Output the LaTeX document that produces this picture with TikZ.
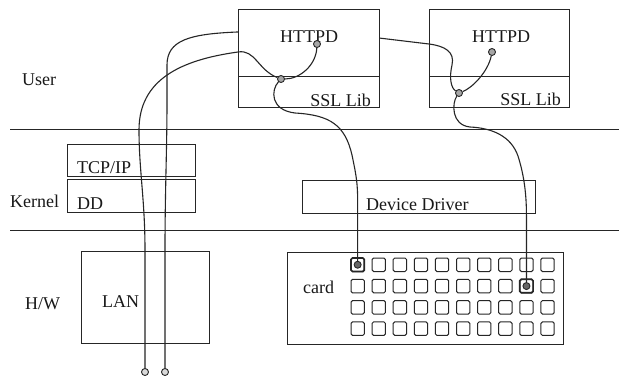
\documentclass[tikz,border=0pt]{standalone}
\usepackage{fontspec}
\setmainfont{Liberation Serif}
\begin{document}
\begin{tikzpicture}[x=1pt,y=-1pt,
  line/.style={draw=black!85,line width=1pt},
  wire/.style={draw=black!85,line width=1.1pt},
  box/.style={draw=black!85,line width=1pt},
  lbl/.style={font=\fontsize{18}{20}\selectfont,inner sep=0pt,text=black!90},
  jdot/.style={circle,draw=black!85,fill=black!35,line width=0.9pt,minimum size=7pt,inner sep=0pt},
  cdot/.style={circle,draw=black!85,fill=black!60,line width=0.9pt,minimum size=7pt,inner sep=0pt},
  enddot/.style={circle,draw=black!85,fill=black!15,line width=0.9pt,minimum size=7pt,inner sep=0pt},
  cell/.style={draw=black!85,line width=1pt,rounded corners=1.5pt}]
\useasboundingbox (0,0) rectangle (619,376);
\fill[white] (0,0) rectangle (619,376);

% layer separators
\draw[line] (10,129.5) -- (619,129.5);
\draw[line] (10,230) -- (619,230);

% layer labels
\node[lbl,anchor=base west] (user) at (22,85) {User};
\node[lbl,anchor=base west] (kernel) at (10,207) {Kernel};
\node[lbl,anchor=base west] (hw) at (25,309) {H/W};

% kernel boxes
\draw[box] (67,144) rectangle (195,176);
\node[lbl,anchor=base west] (tcpip) at (77,173) {TCP/IP};
\draw[box] (67,179) rectangle (195,212);
\node[lbl,anchor=base west] (dd) at (77,209) {DD};
\draw[box] (302,180) rectangle (535,213);
\node[lbl,anchor=base west] (devdrv) at (366,210) {Device Driver};

% hardware
\draw[box] (81,251) rectangle (209,343);
\node[lbl,anchor=base west] (lan) at (102,307) {LAN};
\draw[box] (287,252) rectangle (563,344);
\node[lbl,anchor=base west] (card) at (303,293) {card};
\foreach \i in {0,...,9}
  \foreach \j in {0,...,3}
    \draw[cell] ({351+21.1*\i},{258+21.3*\j}) rectangle ++(13.3,13.5);
\draw[cell,line width=1.7pt] (351,258) rectangle ++(13.3,13.5);
\draw[cell,line width=1.7pt] ({351+21.1*8},{258+21.3}) rectangle ++(13.3,13.5);
\node[cdot] (c1) at (357.65,264.75) {};
\node[cdot] (c2) at (526.45,286.05) {};

% LAN cable ends
\node[enddot] (lanL) at (145,372) {};
\node[enddot] (lanR) at (165,372) {};

% second HTTPD box
\draw[box] (429,9) rectangle (569,107);
\draw[box] (429,76) -- (569,76);
\node[lbl,anchor=base west] (httpd2) at (472,42) {HTTPD};
\node[lbl,anchor=base east] (ssl2) at (561,105) {SSL Lib};
\node[jdot] (j2) at (459,93) {};
\node[jdot] (h2) at (492,52) {};

% wire from LAN (right cable) passing behind the first HTTPD box
\draw[wire] (lanR) -- (165,250) .. controls (165,190) and (167,150) .. (167,100)
  -- (167,65) .. controls (167,40) and (190,34) .. (237,32) -- (379,38) -- (429,44)
  .. controls (445,46) and (455,52) .. (452,65) .. controls (449,78) and (451,88) .. (j2);

% first HTTPD box (opaque)
\filldraw[box,fill=white] (238,9) rectangle (379,107);
\draw[box] (238,76) -- (379,76);
\node[lbl,anchor=base west] (httpd1) at (280,42) {HTTPD};
\node[lbl,anchor=base east] (ssl1) at (371,106) {SSL Lib};
\node[jdot] (j1) at (281,79) {};
\node[jdot] (h1) at (317,44) {};

% wire from LAN (left cable) into first box
\draw[wire] (lanL) -- (145,250) .. controls (145,200) and (139,170) .. (139,130)
  .. controls (139,80) and (180,60) .. (238,52) .. controls (255,49) and (258,70) .. (j1);

% first box branches
\draw[wire] (j1) .. controls (300,79) and (316,65) .. (h1);
\draw[wire] (j1) .. controls (271,90) and (270,110) .. (295,113)
  .. controls (330,115) and (345,125) .. (352,155)
  .. controls (355,170) and (357.65,180) .. (357.65,200) -- (c1);

% second box branches
\draw[wire] (j2) .. controls (472,88) and (488,72) .. (h2);
\draw[wire] (j2) .. controls (452,103) and (451,125) .. (470,127)
  .. controls (492,128) and (511,136) .. (518,156)
  .. controls (523,172) and (526.45,190) .. (526.45,215) -- (c2);
\end{tikzpicture}
\end{document}
